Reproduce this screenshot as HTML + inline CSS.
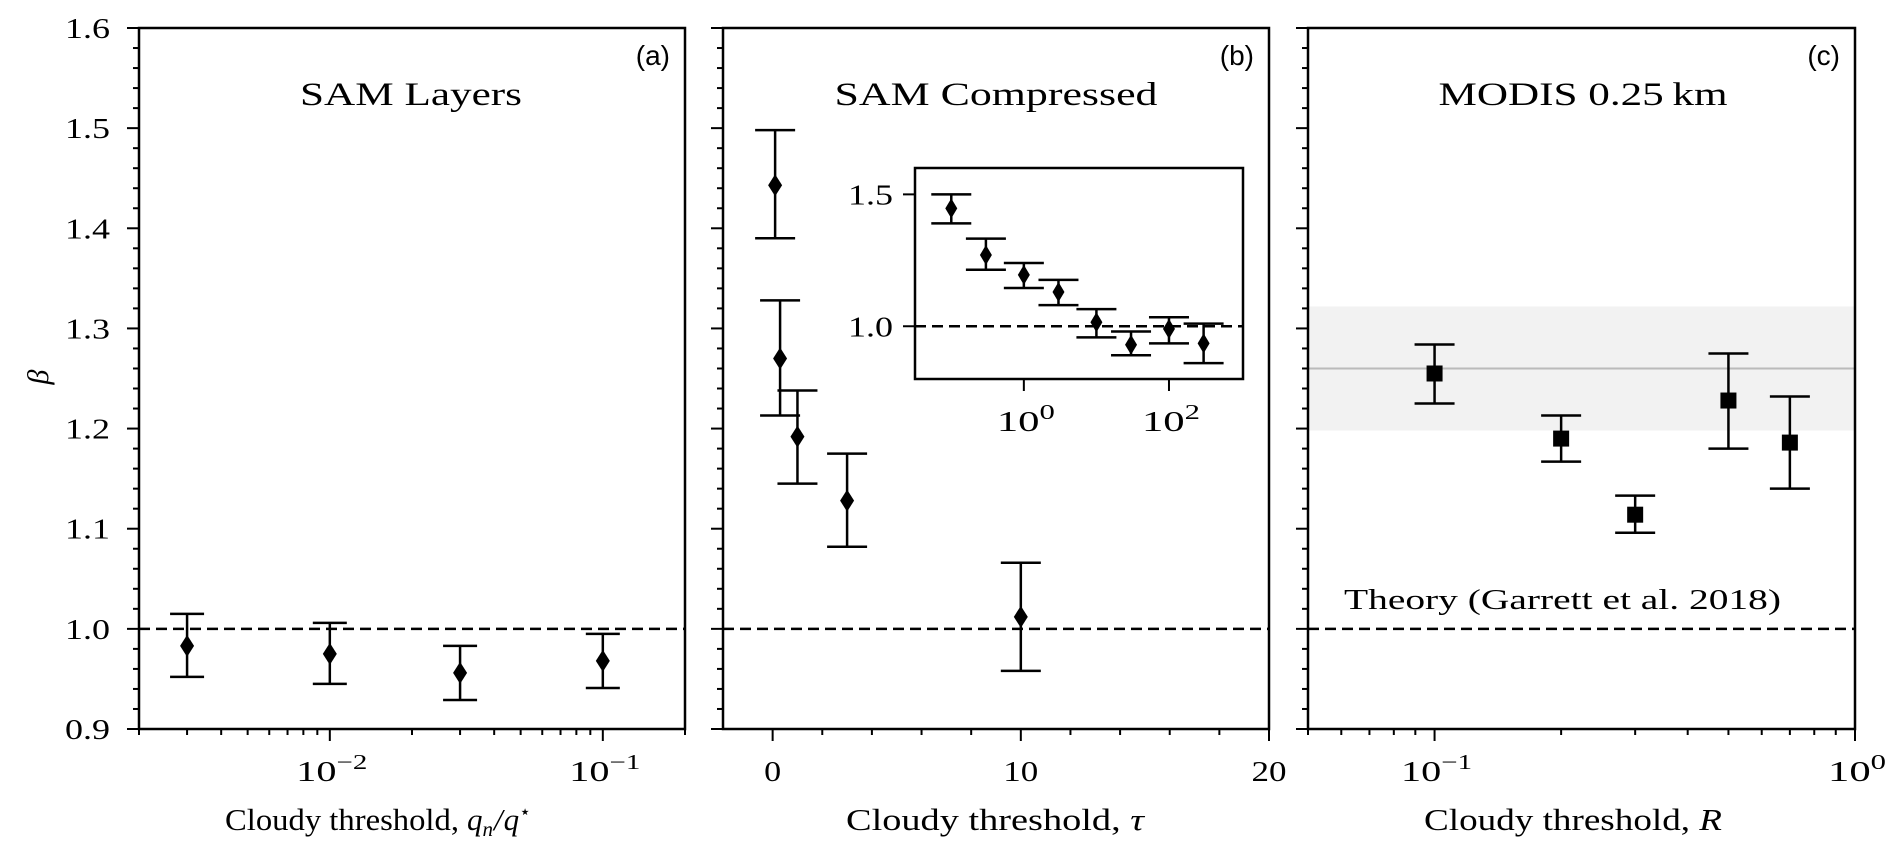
<!DOCTYPE html>
<html><head><meta charset="utf-8"><style>
body{margin:0;background:#fff}
svg{display:block}
text{font-family:"Liberation Serif",serif;fill:#000}
.sans{font-family:"Liberation Sans",sans-serif}
</style></head><body>
<svg id="fig" width="1896" height="856" viewBox="0 0 1896 856" xmlns="http://www.w3.org/2000/svg"></svg>
<script>
// Panel (a) data
const aX = [0.003, 0.01, 0.03, 0.1];
const aY = [0.983, 0.975, 0.956, 0.968];
const aHi = [1.015, 1.006, 0.983, 0.995];
const aLo = [0.952, 0.945, 0.929, 0.941];
// Panel (b) data
const bX = [0.1, 0.3, 1, 3, 10];
const bY = [1.443, 1.270, 1.192, 1.128, 1.012];
const bHi = [1.498, 1.328, 1.238, 1.175, 1.066];
const bLo = [1.390, 1.213, 1.145, 1.082, 0.958];
// Inset data
const iX = [0.1, 0.3, 1, 3, 10, 30, 100, 300];
const iY = [1.447, 1.270, 1.195, 1.130, 1.015, 0.930, 0.990, 0.935];
const iHi = [1.500, 1.332, 1.240, 1.176, 1.065, 0.980, 1.034, 1.010];
const iLo = [1.390, 1.214, 1.145, 1.080, 0.958, 0.890, 0.935, 0.860];
// Panel (c) data
const cX = [0.1, 0.2, 0.3, 0.5, 0.7];
const cY = [1.255, 1.190, 1.114, 1.228, 1.186];
const cHi = [1.284, 1.213, 1.133, 1.275, 1.232];
const cLo = [1.225, 1.167, 1.096, 1.180, 1.140];
const cBand = [1.198, 1.322];
const cLine = [1.260];
const yTicks = [0.9, 1.0, 1.1, 1.2, 1.3, 1.4, 1.5, 1.6];
const yTickLabels = ["0.9","1.0","1.1","1.2","1.3","1.4","1.5","1.6"];

const NS = "http://www.w3.org/2000/svg";
const svg = document.getElementById('fig');
function el(tag, attrs, parent, txt){
  const e = document.createElementNS(NS, tag);
  for (const k in attrs) e.setAttribute(k, attrs[k]);
  if (txt !== undefined) e.textContent = txt;
  (parent||svg).appendChild(e);
  return e;
}
const TOP = 28, BOT = 729;
const yS = v => BOT - (v - 0.9) / 0.7 * (BOT - TOP);
function logS(x0, x1, lo, hi){ return v => x0 + (Math.log10(v) - Math.log10(lo)) / (Math.log10(hi) - Math.log10(lo)) * (x1 - x0); }
function linS(x0, x1, lo, hi){ return v => x0 + (v - lo) / (hi - lo) * (x1 - x0); }

function yAxis(g, x0, labels){
  for (let k = 0; k <= 35; k++){
    const v = 0.9 + k * 0.02, y = yS(v);
    const major = k % 5 === 0;
    const t = el('line', {x1:x0, x2:x0 - (major ? 12 : 6), y1:y, y2:y, stroke:'#000', 'stroke-width':2}, g);
    
    
  }
  if (labels) yTicks.forEach((v, i) => {
    const t = el('text', {x:x0 - 29, y:yS(v) + 10, 'text-anchor':'end', 'font-size':29, textLength:45, lengthAdjust:'spacingAndGlyphs'}, g, yTickLabels[i]);
    
    
  });
}
function frame(g, x0, x1, y0, y1){
  const r = el('rect', {x:x0, y:y0, width:x1 - x0, height:y1 - y0, fill:'none', stroke:'#000', 'stroke-width':2.5}, g);
  
  
}
function refLine(g, x0, x1, y){
  const l = el('line', {x1:x0, x2:x1, y1:y, y2:y, stroke:'#000', 'stroke-width':2.5, 'stroke-dasharray':'11,6'}, g);
  
  
}
function errPoint(g, x, y, hi, lo, cap, shape, mw, mh){
  const eg = el('g', {}, g);
  
  
  el('line', {x1:x, x2:x, y1:hi, y2:lo, stroke:'#000', 'stroke-width':2.5}, eg);
  el('line', {x1:x - cap, x2:x + cap, y1:hi, y2:hi, stroke:'#000', 'stroke-width':2.5}, eg);
  el('line', {x1:x - cap, x2:x + cap, y1:lo, y2:lo, stroke:'#000', 'stroke-width':2.5}, eg);
  if (shape === 'd') el('polygon', {points:`${x},${y - mh} ${x + mw},${y} ${x},${y + mh} ${x - mw},${y}`, fill:'#000'}, eg);
  else el('rect', {x:x - mw, y:y - mw, width:2 * mw, height:2 * mw, fill:'#000'}, eg);
}
function powLabel(g, x, y, e, nm, fs){
  const t = el('text', {x:x, y:y, 'text-anchor':'middle', 'font-size':fs, textLength:e < 0 ? 71 : 58, lengthAdjust:'spacingAndGlyphs'}, g);
  
  
  el('tspan', {}, t, '10');
  el('tspan', {dy:-12, 'font-size':fs * 0.72}, t, (e < 0 ? '\u2212' : '') + Math.abs(e));
}
function logXTicks(g, x0, x1, lo, hi, sx, labelled){
  for (let e = Math.floor(Math.log10(lo)); e <= Math.ceil(Math.log10(hi)); e++){
    for (let m = 1; m <= 9; m++){
      const v = m * Math.pow(10, e);
      if (v < lo * 0.999 || v > hi * 1.001) continue;
      const x = sx(v), major = m === 1;
      const t = el('line', {x1:x, x2:x, y1:BOT, y2:BOT + (major ? 12 : 6), stroke:'#000', 'stroke-width':2}, g);
      
      
      if (major && labelled) powLabel(g, x + 2, 781, e, 'x-tick-label', 29);
    }
  }
}
function title(g, x, txt, nm, w){
  const t = el('text', {x:x, y:105, 'text-anchor':'middle', 'font-size':33, textLength:w, lengthAdjust:'spacingAndGlyphs'}, g, txt);
  
  
}
function letter(g, x, txt){
  const t = el('text', {x:x, y:65, 'text-anchor':'end', 'font-size':28, class:'sans'}, g, txt);
  
  
}
function xlabel(g, x, parts, w){
  const t = el('text', {x:x, y:830, 'text-anchor':'middle', 'font-size':31, textLength:w, lengthAdjust:'spacingAndGlyphs'}, g);
  
  
  parts.forEach(p => el('tspan', p[1] || {}, t, p[0]));
}

// ---- Panel a ----
{
  const g = el('g', {});  
  const X0 = 139, X1 = 685, sx = logS(X0, X1, 0.002, 0.2);
  yAxis(g, X0, true);
  logXTicks(g, X0, X1, 0.002, 0.2, sx, true);
  refLine(g, X0, X1, yS(1.0));
  aX.forEach((v, i) => errPoint(g, sx(v), yS(aY[i]), yS(aHi[i]), yS(aLo[i]), 17, 'd', 7, 11));
  frame(g, X0, X1, TOP, BOT);
  title(g, 411, 'SAM Layers', 'panel-a-title', 222);
  letter(g, X1 - 15, '(a)');
  const xa = el('g', {}, g);
  
  
  el('text', {x:225, y:830, 'font-size':31, textLength:234, lengthAdjust:'spacingAndGlyphs'}, xa, 'Cloudy threshold,');
  const m = el('text', {x:467, y:830, 'font-size':31, 'font-style':'italic'}, xa);
  el('tspan', {}, m, 'q');
  el('tspan', {'font-size':21, dy:6}, m, 'n');
  el('tspan', {dy:-6, dx:1}, m, '/');
  el('tspan', {dx:1}, m, 'q');
  el('tspan', {'font-size':19, dy:-12, 'font-style':'normal'}, m, '\u22c6');
  const yl = el('text', {x:0, y:0, 'font-size':30, 'font-style':'italic', transform:'translate(48,377) rotate(-90)', 'text-anchor':'middle'}, g, '\u03b2');
  
  
}
// ---- Panel b ----
{
  const g = el('g', {});  
  const X0 = 723, X1 = 1269, sx = linS(X0, X1, -2, 20);
  yAxis(g, X0, false);
  for (let v = 0; v <= 20; v += 2){
    const major = v % 10 === 0;
    const t = el('line', {x1:sx(v), x2:sx(v), y1:BOT, y2:BOT + (major ? 12 : 6), stroke:'#000', 'stroke-width':2}, g);
    
    
    if (major){
      const tx = el('text', {x:sx(v), y:781, 'text-anchor':'middle', 'font-size':29, textLength:v ? 35 : 17, lengthAdjust:'spacingAndGlyphs'}, g, String(v));
      
      
    }
  }
  refLine(g, X0, X1, yS(1.0));
  bX.forEach((v, i) => errPoint(g, sx(v), yS(bY[i]), yS(bHi[i]), yS(bLo[i]), 20, 'd', 7, 11));
  frame(g, X0, X1, TOP, BOT);
  title(g, 996, 'SAM Compressed', 'panel-b-title', 323);
  letter(g, X1 - 15, '(b)');
  xlabel(g, 995, [['Cloudy threshold, '], ['\u03c4', {'font-style':'italic'}]], 298);
  // inset
  const ig = el('g', {}, g);  
  const IX0 = 915, IX1 = 1243, IT = 168, IB = 379;
  const isx = logS(IX0, IX1, Math.pow(10, -1.5), Math.pow(10, 3.02));
  const isy = v => IB - (v - 0.8) / 0.8 * (IB - IT);
  [1.0, 1.5].forEach(v => {
    el('line', {x1:IX0, x2:IX0 - 12, y1:isy(v), y2:isy(v), stroke:'#000', 'stroke-width':2}, ig);
    const t = el('text', {x:IX0 - 22, y:isy(v) + 10, 'text-anchor':'end', 'font-size':29, textLength:45, lengthAdjust:'spacingAndGlyphs'}, ig, v.toFixed(1));
    
    
  });
  [0, 2].forEach(e => {
    const x = isx(Math.pow(10, e));
    el('line', {x1:x, x2:x, y1:IB, y2:IB + 12, stroke:'#000', 'stroke-width':2}, ig);
    powLabel(ig, x + 2, IB + 52, e, 'inset-x-tick-label', 29);
  });
  const dl = el('line', {x1:IX0, x2:IX1, y1:isy(1), y2:isy(1), stroke:'#000', 'stroke-width':2.5, 'stroke-dasharray':'11,6'}, ig);
  
  
  iX.forEach((v, i) => errPoint(ig, isx(v), isy(iY[i]), isy(iHi[i]), isy(iLo[i]), 20, 'd', 6, 10));
  frame(ig, IX0, IX1, IT, IB);
}
// ---- Panel c ----
{
  const g = el('g', {});  
  const X0 = 1308, X1 = 1855, sx = logS(X0, X1, 0.05, 1);
  const band = el('rect', {x:X0, y:yS(cBand[1]), width:X1 - X0, height:yS(cBand[0]) - yS(cBand[1]), fill:'#f2f2f2'}, g);
  
  
  const ml = el('line', {x1:X0, x2:X1, y1:yS(cLine[0]), y2:yS(cLine[0]), stroke:'#bbb', 'stroke-width':2}, g);
  
  
  yAxis(g, X0, false);
  logXTicks(g, X0, X1, 0.05, 1, sx, true);
  refLine(g, X0, X1, yS(1.0));
  cX.forEach((v, i) => errPoint(g, sx(v), yS(cY[i]), yS(cHi[i]), yS(cLo[i]), 20, 's', 8, 8));
  frame(g, X0, X1, TOP, BOT);
  title(g, 1583, 'MODIS 0.25\u2009km', 'panel-c-title', 289);
  letter(g, X1 - 15, '(c)');
  const th = el('text', {x:1344, y:609, 'font-size':29, textLength:437, lengthAdjust:'spacingAndGlyphs'}, g, 'Theory (Garrett et al. 2018)');
  
  
  xlabel(g, 1573, [['Cloudy threshold, '], ['R', {'font-style':'italic'}]], 298);
}
</script>
</body></html>
